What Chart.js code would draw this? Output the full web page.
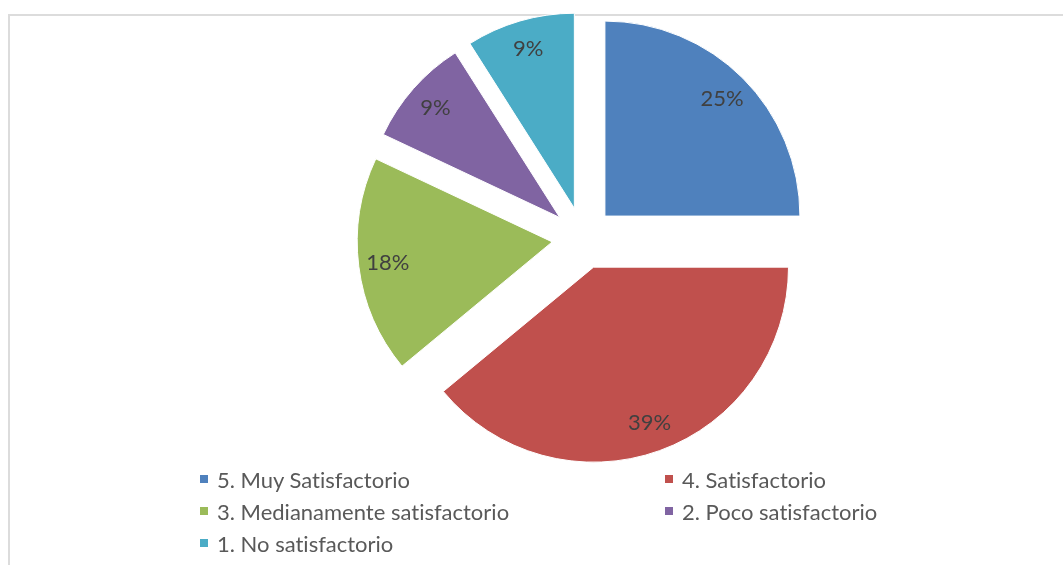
<!DOCTYPE html>
<html>
<head>
<meta charset="utf-8">
<script src="https://cdn.jsdelivr.net/npm/chart.js@4"></script>
<style>
    html, body { margin: 0; padding: 0; background: #fff; overflow: hidden; }
    #wrap { position: relative; width: 1063px; height: 565px; }
    #frame { position: absolute; left: 8px; top: 14px; width: 1100px; height: 600px; border: 2px solid #dcdcdc; box-sizing: border-box; }
    #pie { position: absolute; left: 0; top: 0; }
    .legend-item { position: absolute; display: flex; align-items: center; height: 32px; font-family: Lato, sans-serif; font-size: 22px; color: #595959; white-space: nowrap; font-variant-ligatures: none; }
    .legend-box { width: 8px; height: 8px; margin-right: 9px; flex: none; }
</style>
</head>
<body>
<div id="wrap">
    <div id="frame"></div>
    <canvas id="pie" width="1063" height="565"></canvas>
    <div id="legend"></div>
</div>
<script>
// Encuesta de satisfaccion - distribucion de respuestas
const categories = ['5. Muy Satisfactorio', '4. Satisfactorio', '3. Medianamente satisfactorio', '2. Poco satisfactorio', '1. No satisfactorio'];
const percentages = [25, 39, 18, 9, 9];
const sliceColors = ['#4F81BD', '#C0504D', '#9BBB59', '#8064A2', '#4BACC6'];

const explodePx = 31;

// draw every slice pushed out from the centre (Excel style exploded pie)
const explode = {
    id: 'explode',
    beforeDatasetDraw(chart, args) {
        const ctx = chart.ctx;
        args.meta.data.forEach(arc => {
            const mid = (arc.startAngle + arc.endAngle) / 2;
            ctx.save();
            ctx.translate(Math.cos(mid) * explodePx, Math.sin(mid) * explodePx);
            arc.draw(ctx, chart.chartArea);
            ctx.restore();
        });
        return false;
    }
};

// percentage labels inside slices
const sliceLabels = {
    id: 'sliceLabels',
    afterDatasetsDraw(chart) {
        const ctx = chart.ctx;
        const meta = chart.getDatasetMeta(0);
        ctx.save();
        ctx.font = '22px Lato';
        ctx.fillStyle = '#404040';
        ctx.textAlign = 'center';
        ctx.textBaseline = 'middle';
        meta.data.forEach((arc, i) => {
            const mid = (arc.startAngle + arc.endAngle) / 2;
            const d = explodePx + arc.outerRadius * 0.85;
            ctx.fillText(percentages[i] + '%', arc.x + Math.cos(mid) * d, arc.y + Math.sin(mid) * d);
        });
        ctx.restore();
    }
};

new Chart(document.getElementById('pie'), {
    type: 'pie',
    data: {
        labels: categories,
        datasets: [{ data: percentages, backgroundColor: sliceColors, borderColor: '#ffffff', borderWidth: 1, radius: 195 }]
    },
    options: {
        responsive: false,
        animation: false,
        devicePixelRatio: 1,
        layout: { padding: { left: 103, right: 0, top: 0, bottom: 89 } },
        plugins: { legend: { display: false }, tooltip: { enabled: false } }
    },
    plugins: [explode, sliceLabels]
});

// legend, two columns like the original
const legendEl = document.getElementById('legend');
const legendColX = [200, 665];
categories.forEach((name, i) => {
    const item = document.createElement('div');
    item.className = 'legend-item';
    item.style.left = legendColX[i % 2] + 'px';
    item.style.top = (463 + Math.floor(i / 2) * 32) + 'px';
    item.innerHTML = `<span class="legend-box" style="background:${sliceColors[i]}"></span><span>${name}</span>`;
    legendEl.appendChild(item);
});
</script>
</body>
</html>
